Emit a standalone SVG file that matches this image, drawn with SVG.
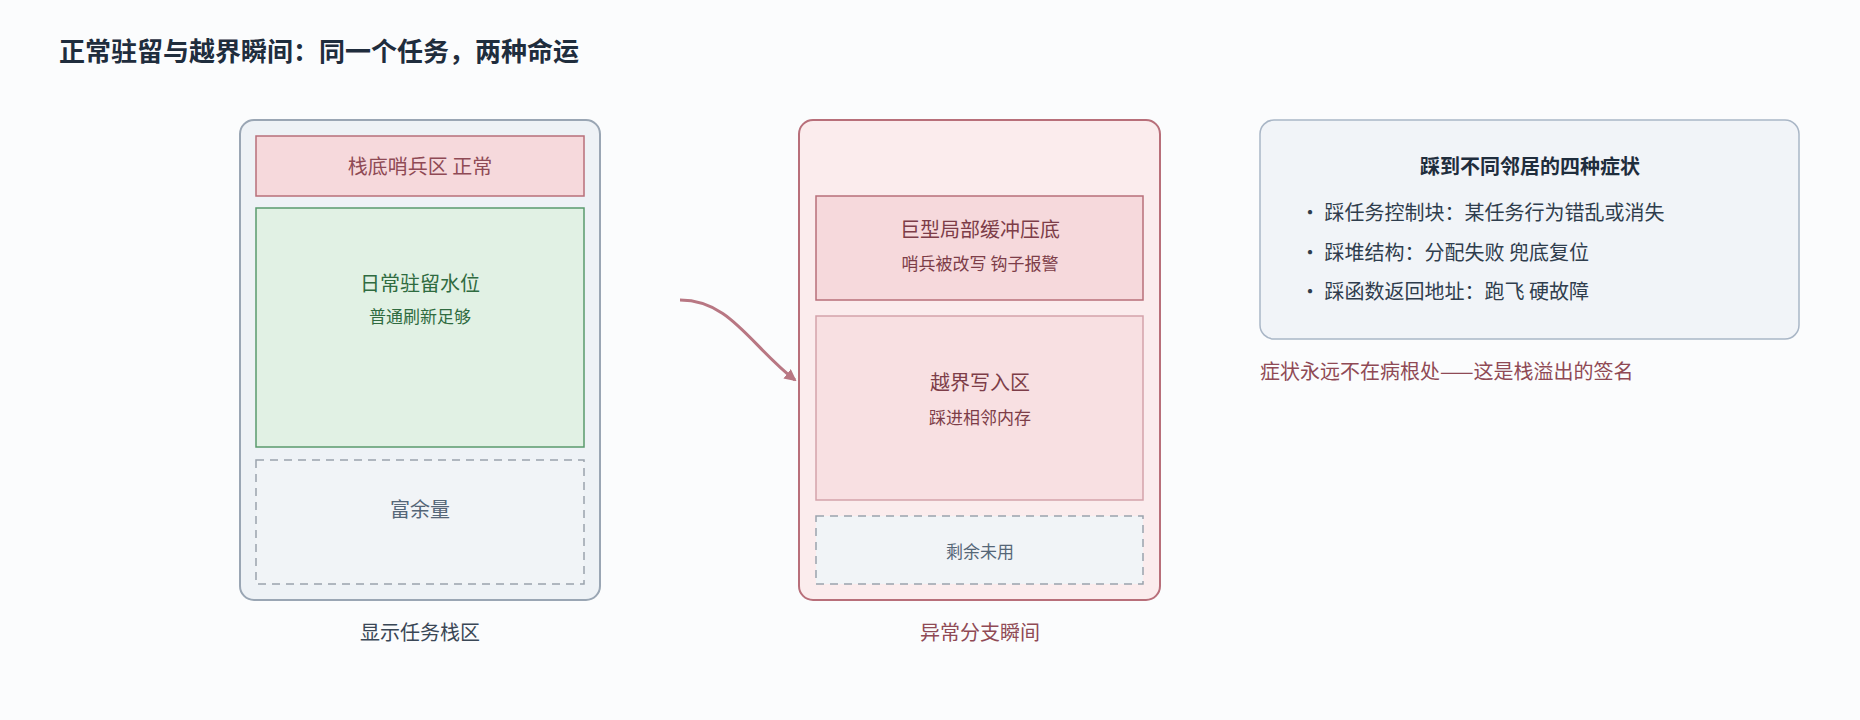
<svg xmlns="http://www.w3.org/2000/svg" width="1860" height="720" viewBox="0 0 1860 720">
<style>
text{font-family:"Noto Sans CJK SC","Noto Sans",sans-serif}
.t{font-size:20px;text-anchor:middle}
.s{font-size:17px;text-anchor:middle}
.dash{fill:#f1f4f7;stroke:#9aa3ad;stroke-width:1.5;stroke-dasharray:8 6}
</style>
<defs><marker id="ah" markerWidth="12" markerHeight="12" refX="10" refY="6" orient="auto" markerUnits="userSpaceOnUse"><path d="M0,0 L12,6 L0,12 Z" fill="#b87783"/></marker></defs>
<rect width="1860" height="720" fill="#fbfcfd"/>
<text x="59" y="61" font-size="26" font-weight="bold" fill="#1f2d3d">正常驻留与越界瞬间：同一个任务，两种命运</text>
<g id="normal">
<rect x="240" y="120" width="360" height="480" rx="14" fill="#eef2f6" stroke="#9aa6b4" stroke-width="2"/>
<rect x="256" y="136" width="328" height="60" fill="#f6d9dc" stroke="#b86f7a" stroke-width="1.5"/>
<text class="t" x="420" y="174" fill="#8f4a55">栈底哨兵区 正常</text>
<rect x="256" y="208" width="328" height="239" fill="#e1f1e4" stroke="#5a9a6d" stroke-width="1.5"/>
<text class="t" x="420" y="291" fill="#2f6b40" font-size="22">日常驻留水位</text>
<text class="s" x="420" y="323" fill="#2f6b40">普通刷新足够</text>
<rect class="dash" x="256" y="460" width="328" height="124"/>
<text class="t" x="420" y="517" fill="#556677">富余量</text>
<text class="t" x="420" y="640" fill="#3a4756" font-size="22">显示任务栈区</text>
</g>
<g id="overflow">
<rect x="799" y="120" width="361" height="480" rx="14" fill="#fbeced" stroke="#b86f7a" stroke-width="2"/>
<rect x="816" y="196" width="327" height="104" fill="#f6d9dc" stroke="#b86f7a" stroke-width="1.5"/>
<text class="t" x="980" y="237" fill="#7d3d48" font-size="21">巨型局部缓冲压底</text>
<text class="s" x="980" y="270" fill="#7d3d48">哨兵被改写 钩子报警</text>
<rect x="816" y="316" width="327" height="184" fill="#f8e0e2" stroke="#d4a3aa" stroke-width="1.5"/>
<text class="t" x="980" y="390" fill="#7d3d48" font-size="22">越界写入区</text>
<text class="s" x="980" y="424" fill="#7d3d48">踩进相邻内存</text>
<rect class="dash" x="816" y="516" width="327" height="68"/>
<text class="s" x="980" y="558" fill="#556677">剩余未用</text>
<text class="t" x="980" y="640" fill="#8f4a55" font-size="22">异常分支瞬间</text>
</g>
<g id="symptoms">
<rect x="1260" y="120" width="539" height="219" rx="14" fill="#f1f4f8" stroke="#a9b6c6" stroke-width="1.5"/>
<text class="t" x="1530" y="174" fill="#1f2d3d" font-weight="bold" font-size="21">踩到不同邻居的四种症状</text>
<text x="1300" y="220" font-size="20" fill="#2f3d4d">• 踩任务控制块：某任务行为错乱或消失</text>
<text x="1300" y="260" font-size="20" fill="#2f3d4d">• 踩堆结构：分配失败 兜底复位</text>
<text x="1300" y="299" font-size="20" fill="#2f3d4d">• 踩函数返回地址：跑飞 硬故障</text>
<text x="1260" y="379" font-size="20" fill="#8f4a55">症状永远不在病根处——这是栈溢出的签名</text>
</g>
<g id="connectors">
<path d="M680,300 C730,300 750,345 795,380" fill="none" stroke="#b87783" stroke-width="3" marker-end="url(#ah)"/>
</g>
</svg>
